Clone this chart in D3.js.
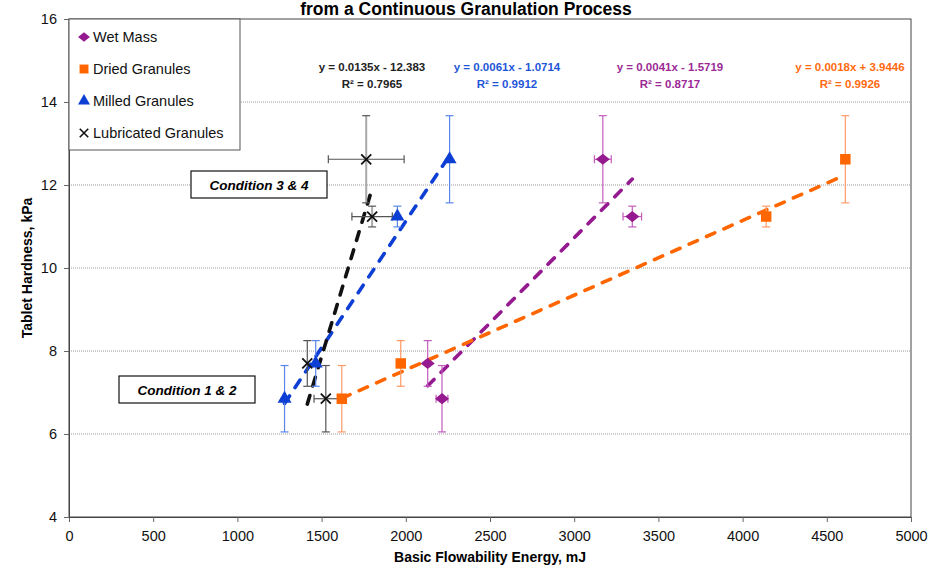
<!DOCTYPE html>
<html>
<head>
<meta charset="utf-8">
<script src="https://cdn.jsdelivr.net/npm/d3@7"></script>
<style>
  body { margin: 0; background: #fff; }
  svg { display: block; }
</style>
</head>
<body>
<div id="main"></div>
<script>
var ctx = {
    w: 929,
    h: 569,
    left: 69,
    right: 911,
    top: 19,
    bottom: 517
};

// series
var seriesNames = ["Wet Mass", "Dried Granules", "Milled Granules", "Lubricated Granules"];
var seriesColors = ["#961a8f", "#ff6600", "#0d3fd4", "#111111"];
var errColors = ["#c35bbd", "#ff9a66", "#5a86ea", "#555555"];
var eqColors = ["#9c2a96", "#ff6a10", "#1f56d8", "#222222"];

var wetMassBFE = [3170, 3345, 2130, 2215];
var wetMassHard = [12.62, 11.24, 7.70, 6.85];
var wetMassBFEErr = [50, 55, 0, 35];
var wetMassHardErr = [1.05, 0.25, 0.55, 0.80];

var driedBFE = [1620, 1970, 4140, 4610];
var driedHard = [6.85, 7.70, 11.24, 12.62];
var driedBFEErr = [0, 0, 0, 0];
var driedHardErr = [0.80, 0.55, 0.25, 1.05];

var milledBFE = [1280, 1465, 1950, 2260];
var milledHard = [6.85, 7.70, 11.24, 12.62];
var milledBFEErr = [0, 0, 0, 0];
var milledHardErr = [0.80, 0.55, 0.25, 1.05];

var lubBFE = [1415, 1525, 1765, 1800];
var lubHard = [7.70, 6.85, 12.62, 11.24];
var lubBFEErr = [0, 70, 225, 120];
var lubHardErr = [0.55, 0.80, 1.05, 0.25];

// linear trendlines (from the chart labels)
var trendSlopes = [0.0041, 0.0018, 0.0061, 0.0135];
var trendIntercepts = [-1.5719, 3.9446, -1.0714, -12.383];
var trendEquations = ["y = 0.0041x - 1.5719", "y = 0.0018x + 3.9446", "y = 0.0061x - 1.0714", "y = 0.0135x - 12.383"];
var trendR2 = ["R² = 0.8717", "R² = 0.9926", "R² = 0.9912", "R² = 0.7965"];

var xTicks = [0, 500, 1000, 1500, 2000, 2500, 3000, 3500, 4000, 4500, 5000];
var yTicks = [4, 6, 8, 10, 12, 14, 16];

var conditionLabels = ["Condition 3 & 4", "Condition 1 & 2"];

var x = d3.scaleLinear().domain([0, 5000]).range([ctx.left, ctx.right]);
var y = d3.scaleLinear().domain([4, 16]).range([ctx.bottom, ctx.top]);

var buildSeries = function(){
    var xs = [wetMassBFE, driedBFE, milledBFE, lubBFE];
    var ys = [wetMassHard, driedHard, milledHard, lubHard];
    var xe = [wetMassBFEErr, driedBFEErr, milledBFEErr, lubBFEErr];
    var ye = [wetMassHardErr, driedHardErr, milledHardErr, lubHardErr];
    var all = [];
    for(var i = 0; i < seriesNames.length; i++){
        var pts = [];
        for(var j = 0; j < xs[i].length; j++){
            pts.push({x: xs[i][j], y: ys[i][j], ex: xe[i][j], ey: ye[i][j]});
        }
        all.push({name: seriesNames[i], idx: i, points: pts});
    }
    return all;
};

var markerPath = function(idx){
    if(idx == 0) return d3.symbol().type(d3.symbolDiamond2).size(80)();
    if(idx == 1) return d3.symbol().type(d3.symbolSquare).size(110)();
    if(idx == 2) return d3.symbol().type(d3.symbolTriangle).size(85)();
    return "M-5,-5L5,5M-5,5L5,-5";
};

var drawMarker = function(g, idx){
    var p = g.append("path").attr("d", markerPath(idx));
    if(idx == 3){
        p.attr("fill", "none").attr("stroke", seriesColors[3]).attr("stroke-width", 1.8);
    } else {
        p.attr("fill", seriesColors[idx]);
        if(idx == 0) p.attr("transform", "scale(1.25,1)");
    }
    return p;
};

var createViz = function(){
    var svg = d3.select("#main").append("svg")
        .attr("width", ctx.w).attr("height", ctx.h);

    // title - only its last line is in view
    svg.append("text")
        .attr("x", 466).attr("y", 15)
        .attr("text-anchor", "middle")
        .style("font-family", "'Liberation Sans', sans-serif")
        .style("font-weight", "bold").style("font-size", "17.5px")
        .text("from a Continuous Granulation Process");

    // gridlines
    svg.append("g").selectAll("line")
        .data(yTicks.filter(function(d){ return d > 4 && d < 16; }))
        .enter().append("line")
        .attr("x1", ctx.left).attr("x2", ctx.right)
        .attr("y1", function(d){ return y(d); })
        .attr("y2", function(d){ return y(d); })
        .attr("stroke", "#9a9a9a").attr("stroke-width", 1)
        .attr("stroke-dasharray", "1,1");

    // frame
    svg.append("rect")
        .attr("x", ctx.left).attr("y", ctx.top)
        .attr("width", ctx.right - ctx.left).attr("height", ctx.bottom - ctx.top)
        .attr("fill", "none").attr("stroke", "#444").attr("stroke-width", 1);

    // axes
    var xAxis = svg.append("g").attr("transform", "translate(0," + ctx.bottom + ")")
        .call(d3.axisBottom(x).tickValues(xTicks).tickSize(5).tickPadding(9).tickFormat(d3.format("d")));
    var yAxis = svg.append("g").attr("transform", "translate(" + ctx.left + ",0)")
        .call(d3.axisLeft(y).tickValues(yTicks).tickSize(5).tickPadding(7).tickFormat(d3.format("d")));
    [xAxis, yAxis].forEach(function(a){
        a.select(".domain").attr("stroke", "#444");
        a.selectAll(".tick line").attr("stroke", "#666");
        a.selectAll(".tick text")
            .style("font-family", "'Liberation Sans', sans-serif")
            .style("font-size", "14.5px").attr("fill", "#111");
    });

    svg.append("text")
        .attr("x", (ctx.left + ctx.right) / 2).attr("y", 562)
        .attr("text-anchor", "middle")
        .style("font-family", "'Liberation Sans', sans-serif")
        .style("font-weight", "bold").style("font-size", "14px")
        .text("Basic Flowability Energy, mJ");
    svg.append("text")
        .attr("transform", "translate(32," + ((ctx.top + ctx.bottom) / 2) + ") rotate(-90)")
        .attr("text-anchor", "middle")
        .style("font-family", "'Liberation Sans', sans-serif")
        .style("font-weight", "bold").style("font-size", "14px")
        .text("Tablet Hardness, kPa");

    var series = buildSeries();

    // trendlines
    var trendG = svg.append("g");
    series.forEach(function(s){
        var xmin = d3.min(s.points, function(d){ return d.x; });
        var xmax = d3.max(s.points, function(d){ return d.x; });
        var m = trendSlopes[s.idx], b = trendIntercepts[s.idx];
        trendG.append("line")
            .attr("x1", x(xmin)).attr("y1", y(m * xmin + b))
            .attr("x2", x(xmax)).attr("y2", y(m * xmax + b))
            .attr("stroke", seriesColors[s.idx]).attr("stroke-width", 3.6)
            .attr("stroke-linecap", "round")
            .attr("stroke-dasharray", "9,10");
    });

    // error bars
    var cap = 4;
    series.forEach(function(s){
        var g = svg.append("g");
        var col = errColors[s.idx];
        s.points.forEach(function(d){
            if(d.ey > 0){
                var wide = (s.idx == 3 && d.ex > 100);
                g.append("line").attr("x1", x(d.x)).attr("x2", x(d.x))
                    .attr("y1", y(d.y - d.ey)).attr("y2", y(d.y + d.ey))
                    .attr("stroke", wide ? "#a8a8a8" : col).attr("stroke-width", wide ? 2 : 1.2);
                [d.y - d.ey, d.y + d.ey].forEach(function(v){
                    g.append("line").attr("x1", x(d.x) - cap).attr("x2", x(d.x) + cap)
                        .attr("y1", y(v)).attr("y2", y(v))
                        .attr("stroke", col).attr("stroke-width", 1.2);
                });
            }
            if(d.ex > 0){
                g.append("line").attr("x1", x(d.x - d.ex)).attr("x2", x(d.x + d.ex))
                    .attr("y1", y(d.y)).attr("y2", y(d.y))
                    .attr("stroke", col).attr("stroke-width", 1.2);
                [d.x - d.ex, d.x + d.ex].forEach(function(v){
                    g.append("line").attr("x1", x(v)).attr("x2", x(v))
                        .attr("y1", y(d.y) - cap).attr("y2", y(d.y) + cap)
                        .attr("stroke", col).attr("stroke-width", 1.2);
                });
            }
        });
    });

    // markers
    series.forEach(function(s){
        var g = svg.append("g");
        s.points.forEach(function(d){
            var mg = g.append("g").attr("transform", "translate(" + x(d.x) + "," + y(d.y) + ")");
            drawMarker(mg, s.idx);
        });
    });

    // trendline equations
    var eqX = [670, 850, 507, 372];
    series.forEach(function(s){
        var t = svg.append("text")
            .attr("text-anchor", "middle")
            .style("font-family", "'Liberation Sans', sans-serif")
            .style("font-weight", "bold").style("font-size", "11.5px")
            .attr("fill", eqColors[s.idx]);
        t.append("tspan").attr("x", eqX[s.idx]).attr("y", 71).text(trendEquations[s.idx]);
        t.append("tspan").attr("x", eqX[s.idx]).attr("y", 88).text(trendR2[s.idx]);
    });

    // condition boxes
    var boxes = [{x: 191, y: 171}, {x: 119, y: 376}];
    boxes.forEach(function(b, i){
        svg.append("rect").attr("x", b.x).attr("y", b.y)
            .attr("width", 136).attr("height", 27)
            .attr("fill", "#fff").attr("stroke", "#111").attr("stroke-width", 1.2);
        svg.append("text").attr("x", b.x + 68).attr("y", b.y + 18.5)
            .attr("text-anchor", "middle")
            .style("font-family", "'Liberation Sans', sans-serif")
            .style("font-weight", "bold").style("font-style", "italic").style("font-size", "13.5px")
            .text(conditionLabels[i]);
    });

    // legend
    var lg = svg.append("g");
    lg.append("rect").attr("x", 69).attr("y", 19).attr("width", 171).attr("height", 131)
        .attr("fill", "#fff").attr("stroke", "#555").attr("stroke-width", 1);
    seriesNames.forEach(function(n, i){
        var yy = 37 + i * 32;
        var mg = lg.append("g").attr("transform", "translate(84," + yy + ") scale(0.85)");
        drawMarker(mg, i);
        lg.append("text").attr("x", 93).attr("y", yy + 5)
            .style("font-family", "'Liberation Sans', sans-serif")
            .style("font-size", "14.5px").attr("fill", "#111")
            .text(n);
    });
};

createViz();
</script>
</body>
</html>
